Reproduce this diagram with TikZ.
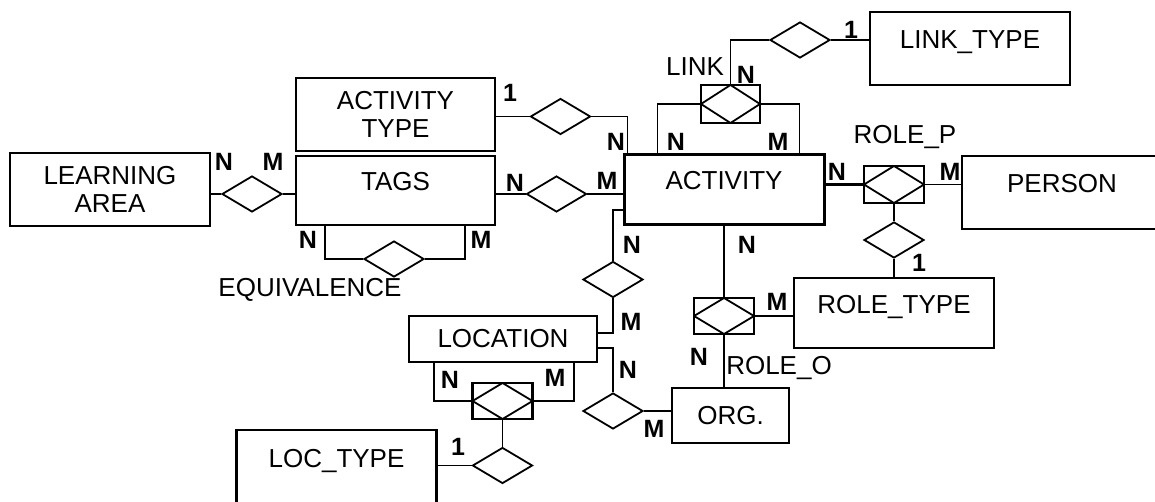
\documentclass[tikz,border=0pt]{standalone}
\usepackage{fontspec}
\setmainfont{Liberation Sans}
\usetikzlibrary{shapes.geometric}

\begin{document}
\begin{tikzpicture}[x=1pt, y=-1pt,
  entity/.style={rectangle, draw, line width=2.6pt, minimum width=200pt, minimum height=70pt, inner sep=0pt, font=\fontsize{26}{28}\selectfont},
  topentity/.style={entity, text height=19pt, text depth=19pt},
  rel/.style={diamond, draw, line width=1.8pt, minimum width=60pt, minimum height=36pt, inner sep=0pt},
  assoc/.style={rectangle, draw, line width=2.6pt, minimum width=60pt, minimum height=37pt, inner sep=0pt, path picture={\draw[line width=1.8pt] (path picture bounding box.north) -- (path picture bounding box.east) -- (path picture bounding box.south) -- (path picture bounding box.west) -- cycle;}},
  card/.style={font=\fontsize{25}{27}\selectfont\bfseries, inner sep=0pt},
  lbl/.style={font=\fontsize{26}{28}\selectfont, inner sep=0pt},
  line/.style={line width=1.8pt}
]
\useasboundingbox (0,0) rectangle (1155,502);
\node[topentity, minimum height=73pt] (linktype) at (970,48.5) {LINK\_TYPE};
\node[rel] (linkrel) at (800,40) {};
\node[assoc, minimum width=59pt, minimum height=38pt] (link) at (730.5,104) {};
\node[topentity, line width=3pt] (activity) at (724,190) {ACTIVITY};
\node[assoc] (rolep) at (894,184.5) {};
\node[topentity, minimum height=73pt] (person) at (1062,192.5) {PERSON};
\node[rel] (roletyperel) at (894,240) {};
\node[topentity] (roletype) at (894,313) {ROLE\_TYPE};
\node[assoc, minimum height=36pt] (roleo) at (724,316) {};
\node[entity, minimum width=117pt, minimum height=55pt] (org) at (730.5,415.5) {ORG.};
\node[entity, minimum width=188pt, minimum height=46pt] (location) at (503,339) {LOCATION};
\node[rel] (actlocrel) at (613,279.5) {};
\node[rel] (orglocrel) at (613,411) {};
\node[assoc, minimum height=36pt] (locassoc) at (502.5,401) {};
\node[rel] (loctyperel) at (502.5,465.5) {};
\node[topentity, minimum height=74pt] (loctype) at (336.5,467) {LOC\_TYPE};
\node[topentity, minimum width=199pt, minimum height=69pt] (tags) at (395.5,190.5) {TAGS};
\node[entity, align=center, minimum width=199pt, minimum height=73pt] (acttype) at (395.5,114.5) {ACTIVITY\\TYPE};
\node[entity, align=center, minimum height=73pt] (learnarea) at (110,189.5) {LEARNING\\AREA};
\node[rel] (latagsrel) at (252,194) {};
\node[rel] (equivrel) at (394,259) {};
\node[rel] (acttyperel) at (560.5,116.5) {};
\node[rel] (tagsactrel) at (556.5,194) {};

\draw[line] (linkrel.west) -| (link.north);
\draw[line] (linkrel.east) -- (linkrel.east -| linktype.west);
\draw[line] (link.west) -| ([xshift=35pt]activity.north west);
\draw[line] (link.east) -| ([xshift=-26pt]activity.north east);
\draw[line width=3pt] (rolep.west -| activity.east) -- (rolep.west);
\draw[line] (rolep.east) -- (rolep.east -| person.west);
\draw[line] (rolep.south) -- (roletyperel.north);
\draw[line] (roletyperel.south) -- (roletype.north);
\draw[line] (activity.south) -- (roleo.north);
\draw[line] (roleo.east) -- (roleo.east -| roletype.west);
\draw[line] (roleo.south) -- (roleo.south |- org.north);
\draw[line] (acttyperel.west -| acttype.east) -- (acttyperel.west);
\draw[line] (acttyperel.east) -| ([xshift=5pt]activity.north west);
\draw[line] (tagsactrel.west -| tags.east) -- (tagsactrel.west);
\draw[line] (tagsactrel.east) -- (tagsactrel.east -| activity.west);
\draw[line] (latagsrel.west -| learnarea.east) -- (latagsrel.west);
\draw[line] (latagsrel.east) -- (latagsrel.east -| tags.west);
\draw[line] (equivrel.west) -| ([xshift=30pt]tags.south west);
\draw[line] (equivrel.east) -| ([xshift=-31pt]tags.south east);
\draw[line] ([yshift=-20pt]activity.west) -| (actlocrel.north);
\draw[line] (actlocrel.south) |- ([yshift=6pt]location.east);
\draw[line] ([yshift=-9pt]location.east) -| (orglocrel.north);
\draw[line] (orglocrel.east) -- (orglocrel.east -| org.west);
\draw[line] (locassoc.west) -| ([xshift=26pt]location.south west);
\draw[line] (locassoc.east) -| ([xshift=-24pt]location.south east);
\draw[line] (locassoc.south) -- (loctyperel.north);
\draw[line] (loctyperel.west) -- (loctyperel.west -| loctype.east);

\node[lbl] (linklbl) at (695,67) {LINK};
\node[lbl] (roleplbl) at (905,137) {ROLE\_P};
\node[lbl] (roleolbl) at (779,368) {ROLE\_O};
\node[lbl] (equivlbl) at (310,290) {EQUIVALENCE};
\node[card] (linktype1) at (851,30) {1};
\node[card] (linkn) at (746,75) {N};
\node[card] (linkactn) at (676,142) {N};
\node[card] (linkactm) at (778,142) {M};
\node[card] (acttypen) at (616,142) {N};
\node[card] (acttype1) at (510,93) {1};
\node[card] (tagsactn) at (515,183) {N};
\node[card] (tagsactm) at (607,181) {M};
\node[card] (latagsn) at (224,162) {N};
\node[card] (latagsm) at (273,162) {M};
\node[card] (equivn) at (308,240) {N};
\node[card] (equivm) at (481,240) {M};
\node[card] (rolepn) at (837,172) {N};
\node[card] (rolepm) at (950,172) {M};
\node[card] (roletype1) at (919,263) {1};
\node[card] (roleon) at (747,245) {N};
\node[card] (roleom) at (777,302) {M};
\node[card] (roleoorgn) at (699,357) {N};
\node[card] (actlocn) at (632,245) {N};
\node[card] (actlocm) at (631,322) {M};
\node[card] (orglocn) at (628,370) {N};
\node[card] (orglocm) at (654,429) {M};
\node[card] (locassocn) at (450,380) {N};
\node[card] (locassocm) at (555,378) {M};
\node[card] (loctype1) at (458,447) {1};
\end{tikzpicture}
\end{document}
